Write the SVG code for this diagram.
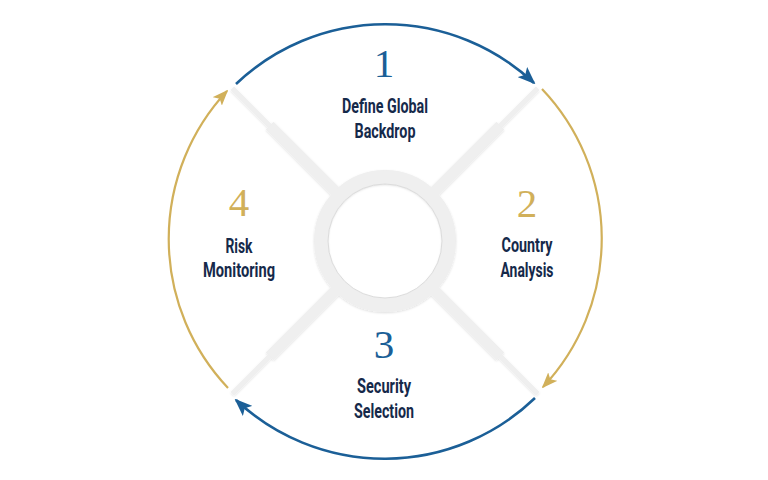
<svg xmlns="http://www.w3.org/2000/svg" width="768" height="480" viewBox="0 0 768 480">
  <style>
    .num { font-family: "Liberation Serif", "Times New Roman", serif; font-size: 41px; text-anchor: middle; }
    .blue { fill: #1b5f97; }
    .gold { fill: #d1b05a; }
    .lbl { font-family: Roboto, "Liberation Sans", sans-serif; font-weight: bold; font-size: 21px; fill: #15294a; text-anchor: middle; }
    .arcB { fill: none; stroke: #1b5f97; stroke-width: 2.6; }
    .arcG { fill: none; stroke: #d1b05a; stroke-width: 2.2; }
    .bar { stroke: #efefef; stroke-linecap: butt; }
  </style>
  <defs>
    <marker id="ahB" viewBox="0 0 18 14" refX="16" refY="7" markerWidth="18" markerHeight="14" markerUnits="userSpaceOnUse" orient="auto">
      <path d="M0,0 L18,7 L0,14 L4,7 Z" fill="#1b5f97"/>
    </marker>
    <marker id="ahG" viewBox="0 0 18 14" refX="16" refY="7" markerWidth="16" markerHeight="13" markerUnits="userSpaceOnUse" orient="auto">
      <path d="M0,0 L18,7 L0,14 L4,7 Z" fill="#d1b05a"/>
    </marker>
    <filter id="soft" x="-20%" y="-20%" width="140%" height="140%">
      <feDropShadow dx="0" dy="1" stdDeviation="1.2" flood-color="#000000" flood-opacity="0.13"/>
    </filter>
  </defs>
  <rect width="768" height="480" fill="#ffffff"/>

  <g id="hub" filter="url(#soft)">
    <g class="bar">
      <line x1="339" y1="195" x2="269.7" y2="125.7" stroke-width="11"/>
      <line x1="269.7" y1="125.7" x2="232.3" y2="88.3" stroke-width="5"/>
      <line x1="431" y1="195" x2="500.3" y2="125.7" stroke-width="11"/>
      <line x1="500.3" y1="125.7" x2="537.7" y2="88.3" stroke-width="5"/>
      <line x1="431" y1="287" x2="500.3" y2="356.3" stroke-width="11"/>
      <line x1="500.3" y1="356.3" x2="537.7" y2="393.7" stroke-width="5"/>
      <line x1="339" y1="287" x2="269.7" y2="356.3" stroke-width="11"/>
      <line x1="269.7" y1="356.3" x2="232.3" y2="393.7" stroke-width="5"/>
    </g>
    <circle cx="385" cy="241" r="64" fill="none" stroke="#efefef" stroke-width="14"/>
  </g>
  <circle cx="385" cy="241" r="57" fill="none" stroke="#dcdcdc" stroke-width="1"/>

  <g id="connectors">
    <path class="arcB" d="M 236 84 A 217 217 0 0 1 534 83" marker-end="url(#ahB)"/>
    <path class="arcG" d="M 542 89 A 217 217 0 0 1 543 387" marker-end="url(#ahG)"/>
    <path class="arcB" d="M 535 398 A 217 217 0 0 1 236 400" marker-end="url(#ahB)"/>
    <path class="arcG" d="M 228 388 A 217 217 0 0 1 227 91" marker-end="url(#ahG)"/>
  </g>

  <g id="step1">
    <text class="num blue" x="384" y="77">1</text>
    <text class="lbl" x="385" y="113" textLength="86" lengthAdjust="spacingAndGlyphs">Define Global</text>
    <text class="lbl" x="385" y="138" textLength="61" lengthAdjust="spacingAndGlyphs">Backdrop</text>
  </g>
  <g id="step2">
    <text class="num gold" x="527" y="217">2</text>
    <text class="lbl" x="527" y="252" textLength="51" lengthAdjust="spacingAndGlyphs">Country</text>
    <text class="lbl" x="527" y="277" textLength="53" lengthAdjust="spacingAndGlyphs">Analysis</text>
  </g>
  <g id="step3">
    <text class="num blue" x="384" y="358">3</text>
    <text class="lbl" x="384" y="393" textLength="54" lengthAdjust="spacingAndGlyphs">Security</text>
    <text class="lbl" x="384" y="418" textLength="60" lengthAdjust="spacingAndGlyphs">Selection</text>
  </g>
  <g id="step4">
    <text class="num gold" x="239" y="216">4</text>
    <text class="lbl" x="239" y="253" textLength="27" lengthAdjust="spacingAndGlyphs">Risk</text>
    <text class="lbl" x="239" y="277" textLength="72" lengthAdjust="spacingAndGlyphs">Monitoring</text>
  </g>
</svg>
